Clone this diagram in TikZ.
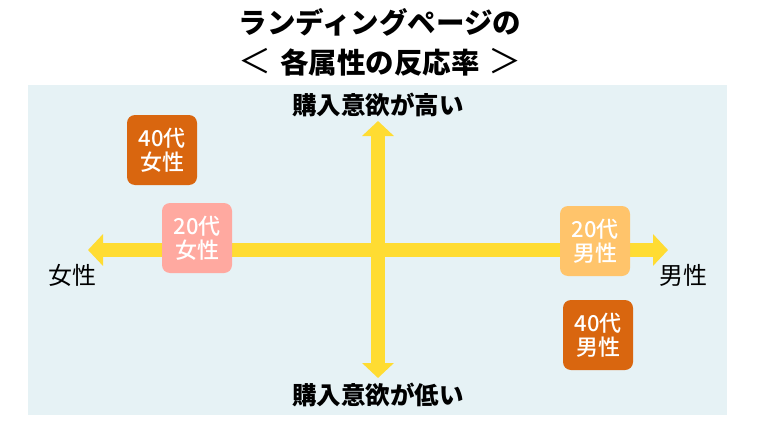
\documentclass[tikz,border=0pt]{standalone}
\usepackage{fontspec}
\setmainfont{Noto Sans CJK JP}
\newfontfamily\mediumfont{Noto Sans CJK JP Medium}
\usetikzlibrary{arrows.meta}

\definecolor{bgblue}{HTML}{E6F2F5}
\definecolor{axisyellow}{HTML}{FFDC32}
\definecolor{darkorange}{HTML}{D9660F}
\definecolor{lightorange}{HTML}{FFC46B}
\definecolor{softpink}{HTML}{FFA9A0}

\begin{document}
\begin{tikzpicture}[
  x=1pt, y=-1pt,
  every node/.style={inner sep=0pt},
  group/.style={rectangle, rounded corners=8pt, minimum width=70pt, minimum height=70pt, align=center, text=white, font=\fontsize{22}{24}\mediumfont},
  axis/.style={line width=14pt, axisyellow, {Triangle[width=31pt,length=15pt]}-{Triangle[width=31pt,length=15pt]}},
  side/.style={font=\fontsize{24}{26}\selectfont},
  level/.style={font=\fontsize{24.5}{26}\selectfont\bfseries}
]
\useasboundingbox (0,0) rectangle (760,428);

% Title
\node[align=center, font=\fontsize{28.5}{40}\selectfont\bfseries] (title) at (380,42) {ランディングページの\\{\mdseries\fontsize{33}{40}\selectfont ＜}\hspace{9pt}各属性の反応率\hspace{9pt}{\mdseries\fontsize{33}{40}\selectfont ＞}};

% Background panel
\fill[bgblue] (28,85) rectangle (727,415);

% Axis ends
\coordinate (left) at (88,250);
\coordinate (right) at (668,250);
\coordinate (top) at (378,121);
\coordinate (bottom) at (378,378);

% Axes
\draw[axis] (left) -- (right);
\draw[axis] (bottom) -- (top);

% Axis labels
\node[level] (high) at (378,105) {購入意欲が高い};
\node[level] (low) at (378,395) {購入意欲が低い};
\node[side] (female) at (72,275) {女性};
\node[side] (male) at (683,275) {男性};

% Groups
\node[group, fill=darkorange] (f40) at (162,150) {40代\\女性};
\node[group, fill=softpink] (f20) at (197,238) {20代\\女性};
\node[group, fill=lightorange] (m20) at (595,241) {20代\\男性};
\node[group, fill=darkorange] (m40) at (598,335) {40代\\男性};

\end{tikzpicture}
\end{document}
